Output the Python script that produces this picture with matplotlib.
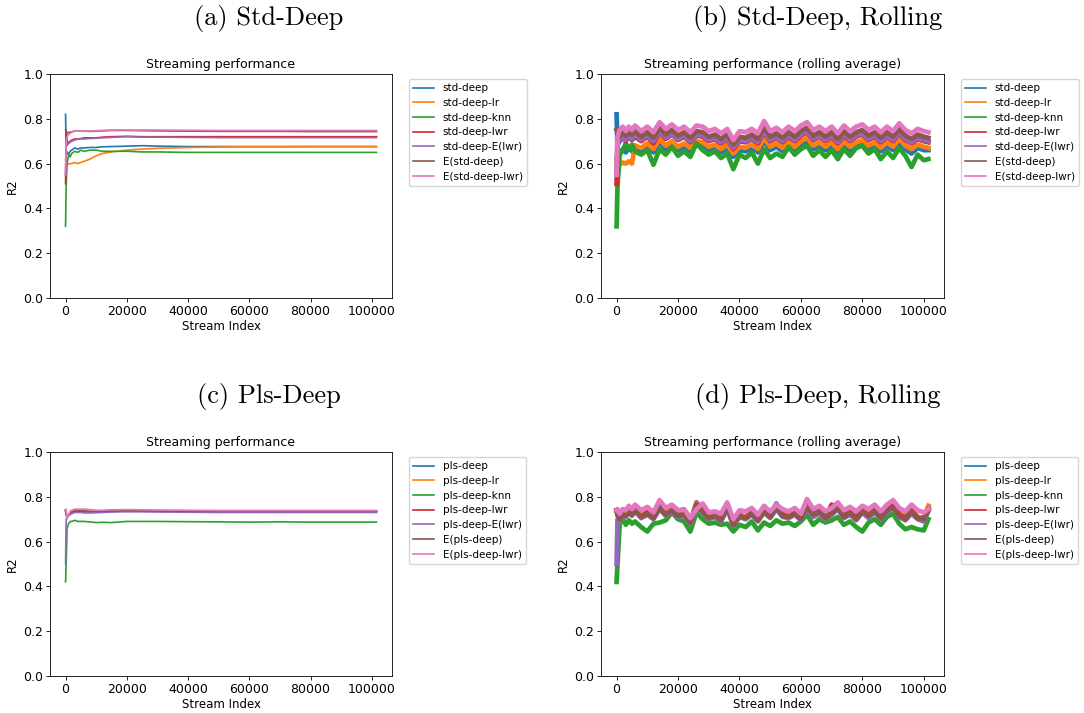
import matplotlib
matplotlib.use("Agg")
import matplotlib.pyplot as plt
import numpy as np

# stream positions for the cumulative curves
CUM_X = [0, 200, 500, 1000, 1500, 2000, 3000, 4000, 5000, 6000, 8000, 10000,
         12000, 15000, 20000, 25000, 30000, 40000, 50000, 60000, 70000, 80000,
         90000, 101500]

# stream positions for the rolling-average curves
ROLL_X = [0, 300, 1000, 2000, 3000, 4000, 5000] + list(range(6000, 100001, 2000)) + [101500]

STD_LABELS = ["std-deep", "std-deep-lr", "std-deep-knn", "std-deep-lwr",
              "std-deep-E(lwr)", "E(std-deep)", "E(std-deep-lwr)"]
PLS_LABELS = ["pls-deep", "pls-deep-lr", "pls-deep-knn", "pls-deep-lwr",
              "pls-deep-E(lwr)", "E(pls-deep)", "E(pls-deep-lwr)"]

# (a) std-deep, cumulative R2
std_cum = [
    [0.82, 0.66, 0.65, 0.64, 0.655, 0.66, 0.67, 0.665, 0.67, 0.67, 0.672, 0.672,
     0.675, 0.676, 0.678, 0.68, 0.678, 0.676, 0.676, 0.676, 0.676, 0.676, 0.676, 0.676],
    [0.62, 0.60, 0.595, 0.598, 0.60, 0.60, 0.605, 0.60, 0.605, 0.61, 0.62, 0.635,
     0.645, 0.652, 0.66, 0.665, 0.668, 0.672, 0.674, 0.675, 0.675, 0.676, 0.676, 0.676],
    [0.32, 0.50, 0.60, 0.64, 0.63, 0.645, 0.655, 0.65, 0.66, 0.655, 0.66, 0.66,
     0.655, 0.655, 0.655, 0.652, 0.652, 0.65, 0.65, 0.65, 0.65, 0.65, 0.65, 0.65],
    [0.51, 0.75, 0.70, 0.69, 0.70, 0.705, 0.71, 0.71, 0.712, 0.715, 0.715, 0.715,
     0.718, 0.72, 0.722, 0.72, 0.72, 0.72, 0.72, 0.72, 0.72, 0.72, 0.72, 0.72],
    [0.55, 0.70, 0.68, 0.69, 0.695, 0.70, 0.705, 0.71, 0.71, 0.71, 0.712, 0.713,
     0.715, 0.717, 0.72, 0.718, 0.718, 0.717, 0.716, 0.716, 0.716, 0.716, 0.716, 0.716],
    [0.75, 0.74, 0.735, 0.74, 0.74, 0.742, 0.745, 0.745, 0.745, 0.745, 0.744, 0.745,
     0.746, 0.748, 0.748, 0.747, 0.746, 0.745, 0.744, 0.744, 0.744, 0.743, 0.743, 0.743],
    [0.55, 0.70, 0.72, 0.73, 0.735, 0.74, 0.745, 0.745, 0.745, 0.745, 0.746, 0.747,
     0.748, 0.75, 0.75, 0.75, 0.75, 0.749, 0.748, 0.748, 0.748, 0.748, 0.748, 0.748],
]

# (c) pls-deep, cumulative R2
pls_cum = [
    [0.74, 0.72, 0.71, 0.72, 0.725, 0.73, 0.735, 0.735, 0.735, 0.735, 0.733, 0.733,
     0.734, 0.735, 0.737, 0.737, 0.736, 0.735, 0.734, 0.734, 0.734, 0.734, 0.734, 0.734],
    [0.74, 0.72, 0.71, 0.72, 0.726, 0.731, 0.736, 0.735, 0.736, 0.735, 0.734, 0.734,
     0.735, 0.736, 0.737, 0.737, 0.736, 0.735, 0.735, 0.735, 0.735, 0.735, 0.735, 0.735],
    [0.42, 0.50, 0.66, 0.68, 0.69, 0.69, 0.695, 0.69, 0.69, 0.69, 0.688, 0.685,
     0.686, 0.685, 0.69, 0.69, 0.69, 0.689, 0.688, 0.687, 0.688, 0.687, 0.687, 0.687],
    [0.74, 0.72, 0.71, 0.72, 0.725, 0.73, 0.735, 0.736, 0.736, 0.735, 0.734, 0.733,
     0.734, 0.735, 0.737, 0.737, 0.736, 0.735, 0.734, 0.734, 0.734, 0.734, 0.734, 0.734],
    [0.50, 0.70, 0.71, 0.715, 0.72, 0.725, 0.73, 0.73, 0.73, 0.728, 0.728, 0.729,
     0.73, 0.732, 0.733, 0.733, 0.732, 0.731, 0.73, 0.73, 0.73, 0.73, 0.73, 0.73],
    [0.74, 0.72, 0.71, 0.72, 0.73, 0.733, 0.737, 0.737, 0.737, 0.736, 0.735, 0.735,
     0.736, 0.737, 0.738, 0.738, 0.737, 0.736, 0.735, 0.735, 0.735, 0.735, 0.735, 0.735],
    [0.74, 0.745, 0.70, 0.72, 0.735, 0.74, 0.745, 0.745, 0.745, 0.745, 0.743, 0.74,
     0.74, 0.742, 0.743, 0.742, 0.741, 0.74, 0.739, 0.739, 0.739, 0.739, 0.739, 0.739],
]

# (b) std-deep, rolling-average R2
std_roll = [
    [0.82, 0.66, 0.64, 0.665, 0.65, 0.67, 0.655, 0.68,
     0.66, 0.675, 0.65, 0.695, 0.665, 0.685, 0.66, 0.675,
     0.655, 0.69, 0.68, 0.66, 0.67, 0.65, 0.67, 0.63,
     0.66, 0.655, 0.67, 0.65, 0.70, 0.66, 0.675, 0.655,
     0.68, 0.66, 0.685, 0.70, 0.665, 0.68, 0.66, 0.68,
     0.65, 0.685, 0.66, 0.68, 0.69, 0.665, 0.68, 0.655,
     0.68, 0.66, 0.695, 0.665, 0.645, 0.67, 0.66, 0.66],
    [0.62, 0.60, 0.595, 0.605, 0.60, 0.61, 0.60, 0.68,
     0.67, 0.69, 0.665, 0.71, 0.68, 0.70, 0.675, 0.69,
     0.67, 0.70, 0.695, 0.675, 0.685, 0.665, 0.685, 0.645,
     0.675, 0.67, 0.685, 0.665, 0.715, 0.675, 0.69, 0.67,
     0.695, 0.675, 0.70, 0.715, 0.68, 0.695, 0.675, 0.695,
     0.665, 0.70, 0.675, 0.695, 0.705, 0.68, 0.695, 0.67,
     0.695, 0.675, 0.71, 0.68, 0.665, 0.685, 0.675, 0.67],
    [0.32, 0.50, 0.64, 0.66, 0.69, 0.665, 0.685, 0.655,
     0.64, 0.66, 0.595, 0.665, 0.64, 0.675, 0.635, 0.655,
     0.63, 0.69, 0.66, 0.64, 0.655, 0.625, 0.645, 0.575,
     0.64, 0.625, 0.65, 0.60, 0.665, 0.625, 0.645, 0.63,
     0.675, 0.64, 0.665, 0.68, 0.635, 0.66, 0.63, 0.66,
     0.62, 0.665, 0.635, 0.67, 0.68, 0.645, 0.665, 0.62,
     0.655, 0.625, 0.67, 0.635, 0.585, 0.64, 0.615, 0.62],
    [0.51, 0.75, 0.70, 0.715, 0.70, 0.72, 0.705, 0.72,
     0.70, 0.72, 0.69, 0.74, 0.71, 0.73, 0.705, 0.72,
     0.695, 0.725, 0.72, 0.70, 0.71, 0.69, 0.71, 0.665,
     0.70, 0.695, 0.71, 0.69, 0.74, 0.70, 0.715, 0.695,
     0.72, 0.70, 0.725, 0.74, 0.705, 0.72, 0.70, 0.72,
     0.69, 0.725, 0.70, 0.72, 0.73, 0.705, 0.72, 0.695,
     0.72, 0.70, 0.735, 0.705, 0.69, 0.71, 0.70, 0.695],
    [0.55, 0.68, 0.70, 0.72, 0.705, 0.725, 0.71, 0.73,
     0.705, 0.725, 0.70, 0.745, 0.715, 0.735, 0.71, 0.725,
     0.70, 0.73, 0.725, 0.705, 0.715, 0.695, 0.715, 0.67,
     0.705, 0.70, 0.715, 0.695, 0.745, 0.705, 0.72, 0.70,
     0.725, 0.705, 0.73, 0.745, 0.71, 0.725, 0.705, 0.725,
     0.695, 0.73, 0.705, 0.725, 0.735, 0.71, 0.725, 0.70,
     0.725, 0.705, 0.74, 0.71, 0.695, 0.715, 0.705, 0.70],
    [0.75, 0.74, 0.72, 0.74, 0.725, 0.74, 0.73, 0.745,
     0.72, 0.74, 0.715, 0.76, 0.73, 0.75, 0.725, 0.74,
     0.715, 0.745, 0.74, 0.72, 0.73, 0.71, 0.73, 0.685,
     0.72, 0.715, 0.73, 0.71, 0.765, 0.72, 0.735, 0.715,
     0.74, 0.72, 0.745, 0.76, 0.725, 0.74, 0.72, 0.74,
     0.71, 0.745, 0.72, 0.74, 0.75, 0.725, 0.74, 0.715,
     0.74, 0.72, 0.755, 0.725, 0.71, 0.73, 0.72, 0.715],
    [0.55, 0.72, 0.75, 0.765, 0.745, 0.765, 0.75, 0.77,
     0.745, 0.765, 0.74, 0.785, 0.755, 0.775, 0.75, 0.765,
     0.74, 0.77, 0.765, 0.745, 0.755, 0.735, 0.755, 0.705,
     0.745, 0.74, 0.755, 0.735, 0.79, 0.745, 0.76, 0.74,
     0.765, 0.745, 0.77, 0.785, 0.75, 0.765, 0.745, 0.765,
     0.735, 0.77, 0.745, 0.765, 0.775, 0.75, 0.765, 0.74,
     0.765, 0.745, 0.78, 0.75, 0.735, 0.755, 0.745, 0.74],
]

# (d) pls-deep, rolling-average R2
pls_roll = [
    [0.74, 0.72, 0.70, 0.725, 0.72, 0.74, 0.72, 0.745,
     0.715, 0.73, 0.71, 0.76, 0.725, 0.745, 0.72, 0.725,
     0.685, 0.775, 0.745, 0.71, 0.715, 0.70, 0.77, 0.68,
     0.72, 0.71, 0.73, 0.70, 0.74, 0.715, 0.77, 0.725,
     0.715, 0.73, 0.705, 0.765, 0.725, 0.735, 0.715, 0.73,
     0.76, 0.715, 0.735, 0.71, 0.74, 0.72, 0.745, 0.71,
     0.745, 0.765, 0.725, 0.71, 0.745, 0.71, 0.705, 0.75],
    [0.74, 0.72, 0.705, 0.725, 0.72, 0.74, 0.725, 0.745,
     0.715, 0.735, 0.71, 0.76, 0.725, 0.745, 0.715, 0.725,
     0.69, 0.77, 0.745, 0.71, 0.72, 0.70, 0.765, 0.68,
     0.72, 0.71, 0.735, 0.70, 0.74, 0.715, 0.765, 0.725,
     0.715, 0.735, 0.705, 0.765, 0.725, 0.74, 0.715, 0.73,
     0.76, 0.72, 0.735, 0.71, 0.745, 0.72, 0.745, 0.715,
     0.745, 0.765, 0.725, 0.715, 0.745, 0.71, 0.705, 0.76],
    [0.42, 0.50, 0.68, 0.70, 0.675, 0.695, 0.68, 0.69,
     0.665, 0.645, 0.68, 0.685, 0.695, 0.73, 0.70, 0.69,
     0.645, 0.73, 0.70, 0.68, 0.685, 0.675, 0.68, 0.645,
     0.675, 0.665, 0.69, 0.65, 0.685, 0.67, 0.695, 0.68,
     0.685, 0.67, 0.69, 0.72, 0.675, 0.70, 0.685, 0.695,
     0.71, 0.675, 0.69, 0.665, 0.645, 0.685, 0.70, 0.675,
     0.71, 0.725, 0.68, 0.655, 0.665, 0.655, 0.65, 0.70],
    [0.74, 0.72, 0.70, 0.72, 0.715, 0.735, 0.72, 0.74,
     0.71, 0.73, 0.705, 0.755, 0.72, 0.74, 0.715, 0.72,
     0.685, 0.765, 0.74, 0.705, 0.715, 0.695, 0.76, 0.675,
     0.715, 0.705, 0.73, 0.70, 0.735, 0.71, 0.76, 0.72,
     0.71, 0.73, 0.70, 0.76, 0.72, 0.735, 0.71, 0.765,
     0.755, 0.715, 0.73, 0.705, 0.74, 0.715, 0.74, 0.71,
     0.74, 0.76, 0.72, 0.705, 0.74, 0.705, 0.70, 0.745],
    [0.50, 0.70, 0.695, 0.715, 0.71, 0.73, 0.715, 0.735,
     0.705, 0.72, 0.70, 0.745, 0.715, 0.735, 0.71, 0.715,
     0.68, 0.75, 0.73, 0.70, 0.71, 0.69, 0.745, 0.67,
     0.71, 0.70, 0.72, 0.69, 0.73, 0.705, 0.745, 0.71,
     0.705, 0.72, 0.695, 0.75, 0.71, 0.725, 0.70, 0.72,
     0.745, 0.705, 0.72, 0.695, 0.73, 0.705, 0.73, 0.70,
     0.73, 0.75, 0.71, 0.695, 0.725, 0.70, 0.69, 0.735],
    [0.74, 0.72, 0.70, 0.72, 0.715, 0.735, 0.72, 0.74,
     0.71, 0.725, 0.705, 0.75, 0.72, 0.74, 0.715, 0.72,
     0.685, 0.76, 0.735, 0.705, 0.715, 0.695, 0.755, 0.675,
     0.715, 0.705, 0.725, 0.695, 0.735, 0.71, 0.755, 0.715,
     0.71, 0.725, 0.70, 0.76, 0.72, 0.735, 0.705, 0.725,
     0.75, 0.71, 0.73, 0.70, 0.735, 0.715, 0.74, 0.705,
     0.74, 0.755, 0.715, 0.70, 0.735, 0.705, 0.70, 0.74],
    [0.74, 0.745, 0.725, 0.745, 0.74, 0.76, 0.745, 0.765,
     0.74, 0.755, 0.73, 0.785, 0.75, 0.765, 0.74, 0.745,
     0.705, 0.745, 0.77, 0.73, 0.735, 0.725, 0.775, 0.70,
     0.74, 0.735, 0.75, 0.72, 0.76, 0.735, 0.765, 0.745,
     0.735, 0.75, 0.725, 0.79, 0.745, 0.76, 0.735, 0.75,
     0.775, 0.74, 0.755, 0.735, 0.76, 0.745, 0.765, 0.735,
     0.765, 0.785, 0.75, 0.735, 0.765, 0.74, 0.73, 0.745],
]

CAPTIONS = ["(a) Std-Deep", "(b) Std-Deep, Rolling", "(c) Pls-Deep", "(d) Pls-Deep, Rolling"]
CAPTION_X = [269, 818, 269, 818]
TITLES = ["Streaming performance", "Streaming performance (rolling average)"]

W, H = 1084, 713
fig = plt.figure(figsize=(W / 100, H / 100), dpi=100)

# axes boxes in pixels: left, top, right, bottom
boxes = [(50, 74, 392, 298), (601, 74, 944, 298), (50, 452, 392, 676), (601, 452, 944, 676)]
panels = [
    (CUM_X, std_cum, STD_LABELS, TITLES[0], 1.2),
    (ROLL_X, std_roll, STD_LABELS, TITLES[1], 3.4),
    (CUM_X, pls_cum, PLS_LABELS, TITLES[0], 1.2),
    (ROLL_X, pls_roll, PLS_LABELS, TITLES[1], 3.4),
]

for (l, t, r, b), (xs, series, labels, title, lw), cap, cx in zip(boxes, panels, CAPTIONS, CAPTION_X):
    ax = fig.add_axes([l / W, 1 - b / H, (r - l) / W, (b - t) / H])
    for ys, lab in zip(series, labels):
        ax.plot(xs, ys, lw=lw, label=lab, solid_joinstyle="round")
    ax.set_ylim(0, 1.0)
    ax.set_yticks(np.arange(0, 1.01, 0.2))
    ax.set_title(title, fontsize=9, pad=4)
    ax.set_xlabel("Stream Index", fontsize=8.5, labelpad=1.5)
    ax.set_ylabel("R2", fontsize=8.5, labelpad=3)
    ax.tick_params(labelsize=9, length=2.8, width=0.6, pad=2)
    for sp in ax.spines.values():
        sp.set_linewidth(0.6)
    leg = ax.legend(loc="upper left", bbox_to_anchor=(1.035, 1.0), fontsize=7.5,
                    handlelength=2.0, labelspacing=0.45)
    for h in leg.legend_handles:
        h.set_linewidth(1.2)
    fig.text(cx / W, 1 - (t - 56) / H, cap, fontfamily="cmr10", fontsize=19,
             ha="center", va="center")

fig.savefig("out.png", dpi=100)
